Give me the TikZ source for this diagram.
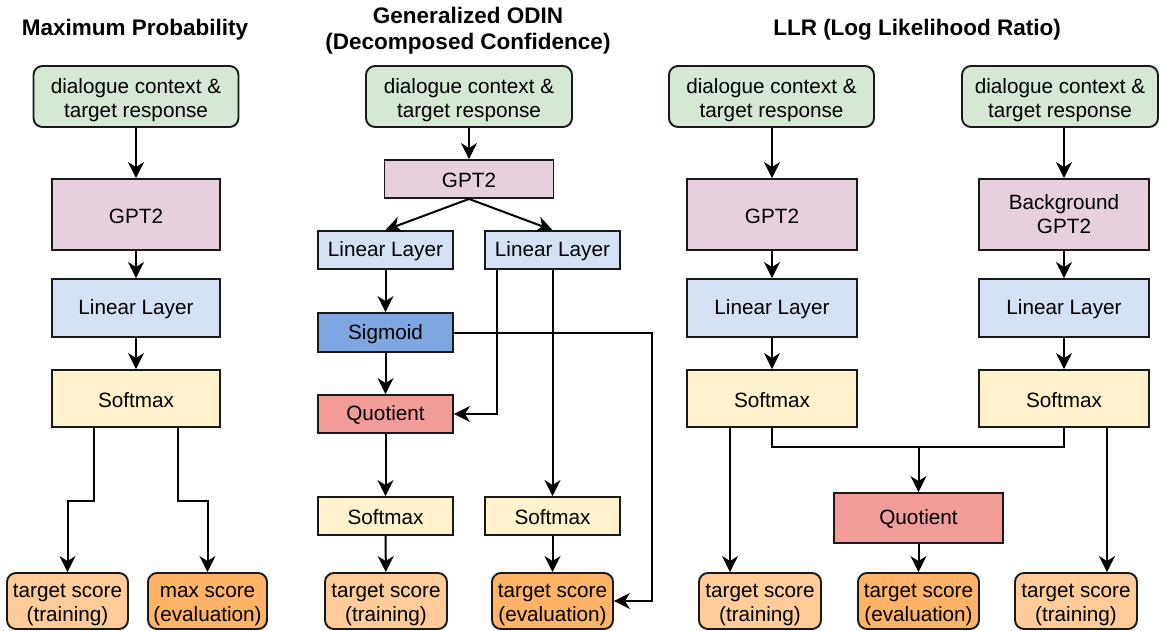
\documentclass[tikz,border=0pt]{standalone}
\usepackage{fontspec}
\setmainfont{Liberation Sans}
\usetikzlibrary{arrows.meta,calc}
\definecolor{cgreen}{HTML}{D5E8D4}
\definecolor{cpink}{HTML}{E6D0DE}
\definecolor{cblue}{HTML}{D4E1F5}
\definecolor{cyellow}{HTML}{FFF2CC}
\definecolor{csig}{HTML}{7EA6E0}
\definecolor{cquo}{HTML}{F19C99}
\definecolor{corl}{HTML}{FFCC99}
\definecolor{cord}{HTML}{FFB366}
\newcommand{\twol}[3][-4pt]{\raisebox{#1}[\height][\depth]{\begin{tabular}{@{}c@{}}#2\\#3\end{tabular}}}
\tikzset{
  box/.style={draw=black!90, line width=1.9pt, inner sep=0pt, align=center,
    font=\fontsize{20.7pt}{24pt}\selectfont},
  oneline/.style={execute at begin node={\rule{0pt}{17.5pt}}},
  inbox/.style={box, fill=cgreen, rounded corners=9pt, minimum width=205pt, minimum height=61pt},
  gptbox/.style={box, fill=cpink},
  linbox/.style={box, oneline, fill=cblue},
  smbox/.style={box, oneline, fill=cyellow},
  sigbox/.style={box, oneline, fill=csig},
  quobox/.style={box, oneline, fill=cquo},
  trbox/.style={box, fill=corl, rounded corners=9pt, minimum width=121pt, minimum height=56pt},
  evbox/.style={box, fill=cord, rounded corners=9pt, minimum width=121pt, minimum height=56pt},
  ttl/.style={font=\bfseries\fontsize{22.5pt}{26pt}\selectfont, inner sep=0pt, align=center},
  arr/.style={line width=2pt, -{Stealth[length=16pt,width=16pt,inset=5pt]}},
  ln/.style={line width=2pt},
}
\begin{document}
\begin{tikzpicture}[x=1pt,y=-1pt]
\useasboundingbox (0,0) rectangle (1160,630);
% ---------------- Titles
\node[ttl] (t1) at (135,30) {Maximum Probability};
\node[ttl] (t2) at (468,31) {Generalized ODIN\\(Decomposed Confidence)};
\node[ttl] (t3) at (917,30) {LLR (Log Likelihood Ratio)};
% ---------------- Left: Maximum Probability
\node[inbox] (in1) at (136,96.5) {\twol{dialogue context \&}{target response}};
\node[gptbox, oneline, minimum width=168pt, minimum height=71pt] (gpt1) at (136,214.5) {GPT2};
\node[linbox, minimum width=168pt, minimum height=58pt] (lin1) at (136,308) {Linear Layer};
\node[smbox, minimum width=168pt, minimum height=57pt] (sm1) at (136,398.5) {Softmax};
\node[trbox] (ts1) at (67.5,601) {\twol{target score}{(training)}};
\node[evbox, minimum width=119pt] (ms1) at (207.5,601) {\twol{max score}{(evaluation)}};
\draw[arr] (in1) -- (gpt1);
\draw[arr] (gpt1) -- (lin1);
\draw[arr] (lin1) -- (sm1);
\draw[arr] ([xshift=-42pt]sm1.south) -- ++(0,73) -| (ts1.north);
\draw[arr] ([xshift=42pt]sm1.south) -- ++(0,73) -| (ms1.north);
% ---------------- Middle: Generalized ODIN
\node[inbox, minimum width=206pt] (in2) at (469,96.5) {\twol{dialogue context \&}{target response}};
\node[gptbox, oneline, minimum width=169pt, minimum height=38pt] (gpt2) at (469,179) {GPT2};
\node[linbox, minimum width=135pt, minimum height=38pt] (linA) at (385.5,250) {Linear Layer};
\node[linbox, minimum width=135pt, minimum height=38pt] (linB) at (552.5,250) {Linear Layer};
\node[sigbox, minimum width=135pt, minimum height=39pt] (sig) at (385.5,332.5) {Sigmoid};
\node[quobox, minimum width=135pt, minimum height=38pt] (quo) at (385.5,414) {Quotient};
\node[smbox, minimum width=135pt, minimum height=38pt] (smA) at (385.5,516) {Softmax};
\node[smbox, minimum width=135pt, minimum height=38pt] (smB) at (552.5,516) {Softmax};
\node[trbox, minimum width=122pt] (tsA) at (386,601) {\twol{target score}{(training)}};
\node[evbox] (teB) at (552.5,601) {\twol{target score}{(evaluation)}};
\draw[arr] (in2) -- (gpt2);
\draw[arr] (gpt2.south) -- (linA.north);
\draw[arr] (gpt2.south) -- (linB.north);
\draw[arr] (linA) -- (sig);
\draw[arr] (sig) -- (quo);
\draw[arr] (quo) -- (smA);
\draw[arr] (smA) -- (tsA);
\draw[arr] ([xshift=-55.5pt]linB.south) |- (quo.east);
\draw[arr] (linB) -- (smB);
\draw[arr] (smB) -- (teB);
\draw[arr] (sig.east) -- ++(198,0) |- (teB.east);
% ---------------- Right: LLR
\node[inbox] (in3) at (771.5,96.5) {\twol{dialogue context \&}{target response}};
\node[inbox, minimum width=196pt] (in4) at (1060,96.5) {\twol{dialogue context \&}{target response}};
\node[gptbox, oneline, minimum width=170pt, minimum height=71pt] (gpt3) at (772,214.5) {GPT2};
\node[gptbox, minimum width=170pt, minimum height=71pt] (bg) at (1064,214.5) {\twol[-2pt]{Background}{GPT2}};
\node[linbox, minimum width=170pt, minimum height=58pt] (lin3) at (772,308) {Linear Layer};
\node[linbox, minimum width=170pt, minimum height=58pt] (lin4) at (1064,308) {Linear Layer};
\node[smbox, minimum width=170pt, minimum height=57pt] (sm3) at (772,398.5) {Softmax};
\node[smbox, minimum width=170pt, minimum height=57pt] (sm4) at (1064,398.5) {Softmax};
\node[quobox, minimum width=169pt, minimum height=50pt] (quo3) at (918.5,518) {Quotient};
\node[trbox, minimum width=122pt] (tl3) at (760,601) {\twol{target score}{(training)}};
\node[evbox] (te3) at (918.5,601) {\twol{target score}{(evaluation)}};
\node[trbox, minimum width=122pt] (tr3) at (1076,601) {\twol{target score}{(training)}};
\coordinate (m) at (918.5,447);
\draw[arr] (in3.south -| gpt3) -- (gpt3);
\draw[arr] (in4.south -| bg) -- (bg);
\draw[arr] (gpt3) -- (lin3);
\draw[arr] (bg) -- (lin4);
\draw[arr] (lin3) -- (sm3);
\draw[arr] (lin4) -- (sm4);
\draw[ln] (sm3.south) |- (m) -| (sm4.south);
\draw[arr] (m) -- (quo3.north);
\draw[arr] (quo3) -- (te3);
\draw[arr] ([xshift=-42pt]sm3.south) -- ([xshift=-42pt]sm3.south |- tl3.north);
\draw[arr] ([xshift=43pt]sm4.south) -- ([xshift=43pt]sm4.south |- tr3.north);
\end{tikzpicture}
\end{document}
